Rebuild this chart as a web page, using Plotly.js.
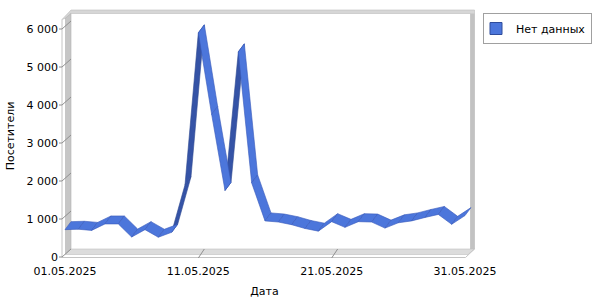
<!DOCTYPE html>
<html><head><meta charset="utf-8">
<script src="https://cdn.plot.ly/plotly-3.0.1.min.js"></script>
<style>html,body{margin:0;padding:0;background:#fff}#chart{width:600px;height:300px}</style>
</head><body><div id="chart"></div>
<script>
// ---------- data ----------
const days = [1,2,3,4,5,6,7,8,9,10,11,12,13,14,15,16,17,18,19,20,21,22,23,24,25,26,27,28,29,30,31];
const visitors = [720,730,700,870,870,525,720,520,650,1900,5900,3750,1750,5400,1950,950,920,850,750,680,930,780,930,920,760,900,950,1040,1120,860,1090];
const xTickDays = [1,11,21,31];
const xTickLabels = ['01.05.2025','11.05.2025','21.05.2025','31.05.2025'];
const yTickValues = [0,1000,2000,3000,4000,5000,6000];
const yTickLabels = ['0','1 000','2 000','3 000','4 000','5 000','6 000'];
const seriesName = 'Нет данных';
const xTitle = 'Дата';
const yTitle = 'Посетители';

// ---------- geometry (pixels) ----------
const W = 600, H = 300;
const PX_PER_DAY = 400 / 30;
const PX_PER_UNIT = 0.038;
const FRONT_DAY1_X = 65, FRONT_ZERO_Y = 257;
const DEPTH_X = 6, DEPTH_Y = 8;
const px = v => v / W;
const py = v => 1 - v / H;
const DX = DEPTH_X / PX_PER_DAY;     // depth offset in day units
const DY = DEPTH_Y / PX_PER_UNIT;    // depth offset in value units
const FY = v => FRONT_ZERO_Y - v * PX_PER_UNIT;
const FX = d => FRONT_DAY1_X + (d - 1) * PX_PER_DAY;

const LIGHT = '#4c76db', DARK = '#3553a6', EDGE = '#3759ba';
const FONT = {family: 'DejaVu Sans, Verdana, sans-serif', size: 11, color: '#000'};

// ---------- ribbon segments ----------
const darkTraces = [], lightTraces = [];
for (let i = 0; i < days.length - 1; i++) {
  const d0 = days[i], d1 = days[i + 1], v0 = visitors[i], v1 = visitors[i + 1];
  const sx = (d1 - d0) * PX_PER_DAY, sy = -(v1 - v0) * PX_PER_UNIT;
  const cross = sx * (-DEPTH_Y) - sy * DEPTH_X;
  const back = cross > 0;
  const tr = {
    type: 'scatter', mode: 'lines', xaxis: 'x2', yaxis: 'y2',
    x: [d0, d1, d1 + DX, d0 + DX, d0],
    y: [v0, v1, v1 + DY, v0 + DY, v0],
    fill: 'toself', fillcolor: back ? DARK : LIGHT,
    line: {color: back ? '#2e4890' : EDGE, width: 0.6},
    showlegend: false, hoverinfo: 'skip'
  };
  (back ? darkTraces : lightTraces).push(tr);
}
const legendTrace = {
  type: 'scatter', mode: 'markers', xaxis: 'x2', yaxis: 'y2',
  x: [null], y: [null], name: seriesName,
  marker: {symbol: 'square', size: 12, color: LIGHT, line: {color: '#2f4c9c', width: 1}}
};
const traces = darkTraces.concat(lightTraces, [legendTrace]);

// ---------- walls (decoration) ----------
const P = pts => 'M' + pts.map(p => px(p[0]) + ',' + py(p[1])).join('L') + 'Z';
const L = (x0, y0, x1, y1, color, w) => ({type: 'line', xref: 'paper', yref: 'paper', layer: 'below',
  x0: px(x0), y0: py(y0), x1: px(x1), y1: py(y1), line: {color: color, width: w}});
const shapes = [
  {type: 'path', xref: 'paper', yref: 'paper', layer: 'below', path: P([[62,19.5],[71,10],[474.5,10],[474.5,249],[470.5,249],[470.5,13.5],[71,13.5],[66,18]]),
   fillcolor: '#d6d6d6', line: {color: '#bcbcbc', width: 0.6}},
  {type: 'rect', xref: 'paper', yref: 'paper', layer: 'below', x0: px(470.5), x1: px(474.5), y0: py(249), y1: py(13.5),
   fillcolor: '#c2c2c2', line: {width: 0}},
  {type: 'path', xref: 'paper', yref: 'paper', layer: 'below', path: P([[65.5,18],[71,13.5],[71,249],[65.5,254]]),
   fillcolor: '#c6c6c6', line: {color: '#b4b4b4', width: 0.6}},
  L(62, 19.5, 62, 257.5, '#c4c4c4', 1),
  {type: 'path', xref: 'paper', yref: 'paper', layer: 'below', path: P([[65.5,254.5],[71,249],[474.5,249],[468,254.5]]),
   fillcolor: '#dcdcdc', line: {color: '#c0c0c0', width: 0.6}},
  L(62, 257.5, 465.5, 257.5, '#c4c4c4', 1),
  L(465.5, 257.5, 474.5, 249, '#c4c4c4', 1)
];
yTickValues.forEach(v => shapes.push(L(59, FY(v), 62, FY(v), '#909090', 1), L(62, FY(v), 71, FY(v) - DEPTH_Y, '#909090', 1)));
xTickDays.slice(1, -1).forEach(d => shapes.push(L(FX(d), 258, FX(d) + DEPTH_X, FY(0) - DEPTH_Y, '#909090', 1)));

// ---------- layout ----------
const BACK_LEFT = 71, BACK_RIGHT = 470.5, BACK_TOP = 13.5, BACK_BOTTOM = FRONT_ZERO_Y - DEPTH_Y;
const layout = {
  width: W, height: H, margin: {l: 0, r: 0, t: 0, b: 0},
  paper_bgcolor: '#fff', plot_bgcolor: 'rgba(0,0,0,0)',
  font: FONT, showlegend: true,
  xaxis: {domain: [px(BACK_LEFT), px(BACK_RIGHT)],
    range: [1 + (BACK_LEFT - FX(1) - DEPTH_X) / PX_PER_DAY, 1 + (BACK_RIGHT - FX(1) - DEPTH_X) / PX_PER_DAY],
    tickvals: xTickDays.slice(1, -1), showticklabels: false, ticks: '', showgrid: true, gridcolor: '#808080', gridwidth: 1,
    zeroline: false, showline: false, anchor: 'y', fixedrange: true},
  yaxis: {domain: [py(BACK_BOTTOM), py(BACK_TOP)], range: [0, (BACK_BOTTOM - BACK_TOP) / PX_PER_UNIT],
    tickvals: yTickValues.slice(1), showticklabels: false, ticks: '', showgrid: true, gridcolor: '#808080', gridwidth: 1,
    zeroline: false, showline: false, anchor: 'x', fixedrange: true},
  xaxis2: {domain: [px(49), px(480)],
    range: [1 - (FX(1) - 49) / PX_PER_DAY, 1 + (480 - FX(1)) / PX_PER_DAY],
    tickvals: xTickDays, ticktext: xTickLabels, ticks: '', showgrid: false, zeroline: false, showline: false,
    anchor: 'free', position: py(FRONT_ZERO_Y), tickfont: FONT, ticklabelstandoff: 6,
    title: {text: xTitle, font: FONT, standoff: 10}, automargin: false, fixedrange: true},
  yaxis2: {domain: [py(272), 1],
    range: [(FRONT_ZERO_Y - 272) / PX_PER_UNIT, FRONT_ZERO_Y / PX_PER_UNIT],
    tickvals: yTickValues, ticktext: yTickLabels, ticks: '', showgrid: false, zeroline: false, showline: false,
    anchor: 'free', position: px(59), tickfont: FONT, ticklabelstandoff: 1,
    title: {text: yTitle, font: FONT, standoff: 8}, automargin: false, fixedrange: true},
  legend: {x: px(483), y: py(13), xanchor: 'left', yanchor: 'top', bgcolor: '#fff',
    bordercolor: '#a0a0a0', borderwidth: 1, font: FONT, itemwidth: 30, indentation: -8},
  shapes: shapes
};
Plotly.newPlot('chart', traces, layout, {staticPlot: true, displayModeBar: false});
</script>
</body></html>
